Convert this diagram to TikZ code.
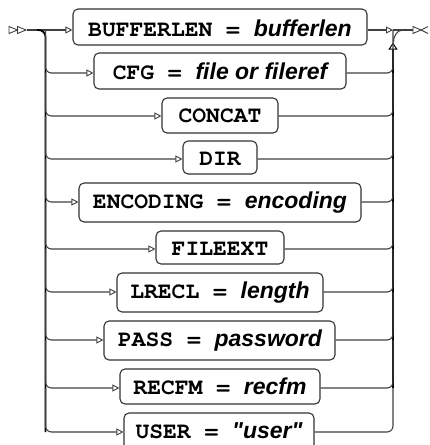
\documentclass[tikz,border=0pt]{standalone}
\usepackage{fontspec}
\setmainfont{Liberation Sans}
\newfontfamily\kwfont{TeX Gyre Cursor}
\newfontfamily\valfont{Liberation Sans}
\usetikzlibrary{arrows.meta}
\definecolor{boxc}{HTML}{333333}
\definecolor{linec}{HTML}{404040}
\newcommand\kw[1]{{\kwfont\bfseries #1}}
\newcommand\va[1]{{\valfont\bfseries\itshape #1}}
\tikzset{
  optbox/.style={draw=boxc, line width=1.1pt, rounded corners=5pt, inner sep=0pt},
  opttext/.style={anchor=base, inner sep=0pt, font=\fontsize{23}{25}\selectfont},
  br/.style={draw=linec, line width=1.1pt, rounded corners=6pt},
  rail/.style={draw=black, line width=1.7pt, rounded corners=7pt},
  intip/.style={-{Triangle[open,length=7pt,width=7pt,line width=0.9pt]}},
  endmarker/.style={draw=linec, line width=0.9pt, line join=miter}
}
\begin{document}
\begin{tikzpicture}[x=1pt,y=-1pt]
\useasboundingbox (0,0) rectangle (429,445);
% row coordinates
\coordinate (y1) at (0,30);
\coordinate (y2) at (0,73);
\coordinate (y3) at (0,116);
\coordinate (y4) at (0,159);
\coordinate (y5) at (0,202);
\coordinate (y6) at (0,249);
\coordinate (y7) at (0,292);
\coordinate (y8) at (0,340);
\coordinate (y9) at (0,388);
\coordinate (y10) at (0,432);
\coordinate (L) at (45.5,0);
\coordinate (R) at (393,0);
\coordinate (start) at (27,30);
\coordinate (join) at (403,30);
\coordinate (stop) at (413,30);
% boxes
\node[optbox, minimum width=294pt, minimum height=36pt] (b1) at (220,27) {};
\node[optbox, minimum width=252pt, minimum height=36pt] (b2) at (220,71) {};
\node[optbox, minimum width=116pt, minimum height=35pt] (b3) at (220,115.5) {};
\node[optbox, minimum width=74pt, minimum height=33pt] (b4) at (220,157.5) {};
\node[optbox, minimum width=282pt, minimum height=39pt] (b5) at (220,202.5) {};
\node[optbox, minimum width=128pt, minimum height=33pt] (b6) at (220,247.5) {};
\node[optbox, minimum width=206pt, minimum height=39pt] (b7) at (220,292.5) {};
\node[optbox, minimum width=231pt, minimum height=39pt] (b8) at (219.5,340.5) {};
\node[optbox, minimum width=200pt, minimum height=35pt] (b9) at (220,386.5) {};
\node[optbox, minimum width=190pt, minimum height=38pt] (b10) at (219,432) {};
% texts
\node[opttext] (t1) at (220,36.5) {\kw{BUFFERLEN = }\va{bufferlen}};
\node[opttext] (t2) at (220,79.5) {\kw{CFG = }\va{file or fileref}};
\node[opttext] (t3) at (220,122.5) {\kw{CONCAT}};
\node[opttext] (t4) at (220,165.5) {\kw{DIR}};
\node[opttext] (t5) at (220,208.5) {\kw{ENCODING = }\va{encoding}};
\node[opttext] (t6) at (220,255.5) {\kw{FILEEXT}};
\node[opttext] (t7) at (220,298.5) {\kw{LRECL = }\va{length}};
\node[opttext] (t8) at (220,346.5) {\kw{PASS = }\va{password}};
\node[opttext] (t9) at (220,394.5) {\kw{RECFM = }\va{recfm}};
\node[opttext] (t10) at (219,438.5) {\kw{USER = }\va{"user"}};
% start marker
\draw[endmarker] (9,26.5) -- (17.5,30) -- (9,33.5) -- cycle;
\draw[endmarker] (17.5,26.5) -- (26,30) -- (17.5,33.5) -- cycle;
% top row
\draw[br, intip] (start) -- (b1.west |- y1);
\draw[br, intip] (b1.east |- y1) -- (R |- y1);
\draw[br] (R |- y1) -- (stop);
% end marker
\draw[endmarker] (413,26.5) -- (421,30) -- (413,33.5) -- cycle;
\draw[endmarker] (428,26.5) -- (421,30) -- (428,33.5);
% left rail
\draw[rail] (37,30) -| (L |- y10);
% right rail with up arrow
\draw[draw=black, line width=1.7pt, -{Triangle[open,length=7pt,width=9pt,line width=1pt]}] (R |- y9) -- (393,42.5);
\draw[br] (393.5,42) to[out=90,in=180] (join);
% branches on the left
\draw[br, intip] (L |- y1) |- (b2.west |- y2);
\draw[br, intip] (L |- y2) |- (b3.west |- y3);
\draw[br, intip] (L |- y3) |- (b4.west |- y4);
\draw[br, intip] (L |- y4) |- (b5.west |- y5);
\draw[br, intip] (L |- y5) |- (b6.west |- y6);
\draw[br, intip] (L |- y6) |- (b7.west |- y7);
\draw[br, intip] (L |- y7) |- (b8.west |- y8);
\draw[br, intip] (L |- y8) |- (b9.west |- y9);
\draw[br, intip] (L |- y9) |- (b10.west |- y10);
% branches on the right
\draw[br] (b2.east |- y2) -| (R |- y1);
\draw[br] (b3.east |- y3) -| (R |- y2);
\draw[br] (b4.east |- y4) -| (R |- y3);
\draw[br] (b5.east |- y5) -| (R |- y4);
\draw[br] (b6.east |- y6) -| (R |- y5);
\draw[br] (b7.east |- y7) -| (R |- y6);
\draw[br] (b8.east |- y8) -| (R |- y7);
\draw[br] (b9.east |- y9) -| (R |- y8);
\draw[br] (b10.east |- y10) -| (R |- y9);
\end{tikzpicture}
\end{document}
